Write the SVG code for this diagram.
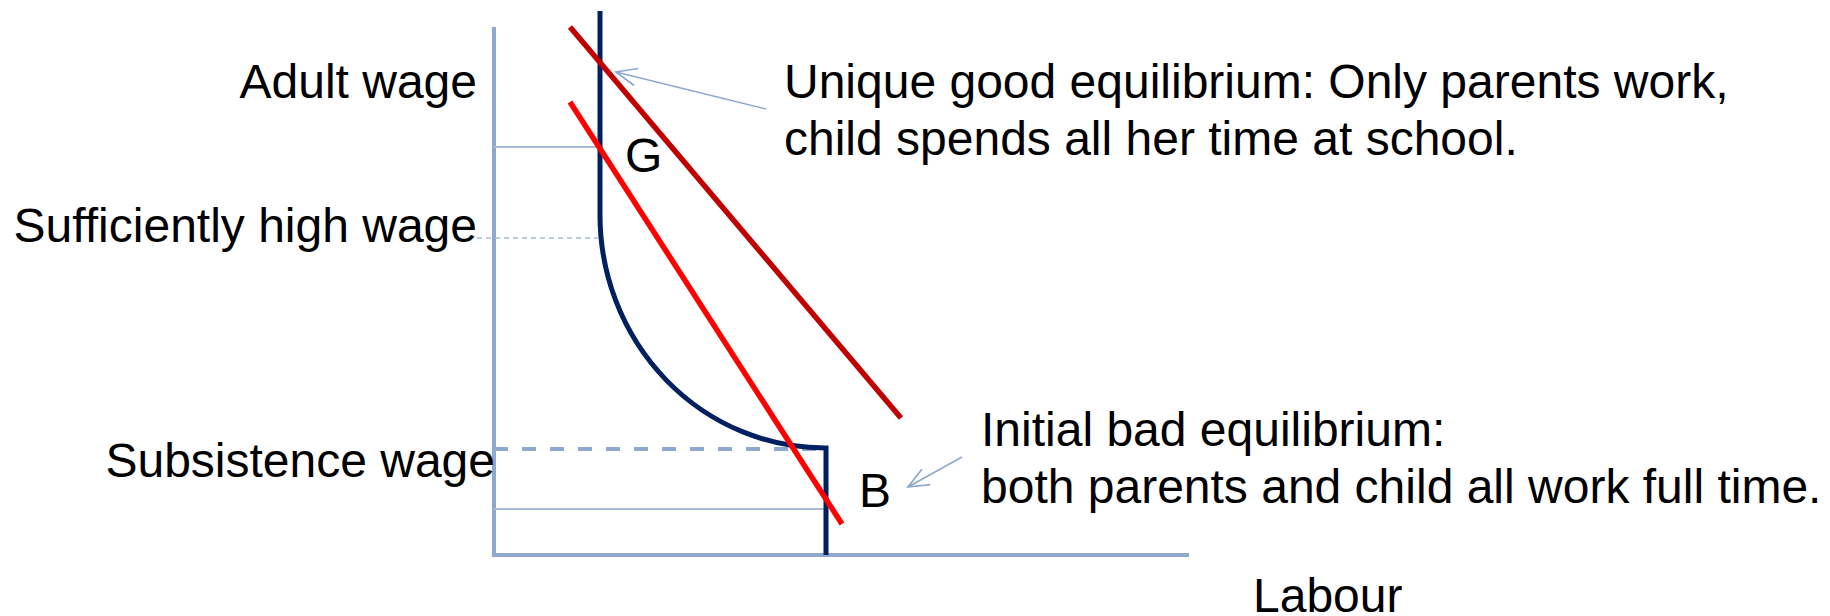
<svg xmlns="http://www.w3.org/2000/svg" width="1830" height="616" viewBox="0 0 1830 616">
<style>
text{font-family:"Liberation Sans",Arial,sans-serif;font-size:48px;fill:#000}
.end{text-anchor:end}
.axis{stroke:#8EA9CD;stroke-width:4;fill:none}
.guide{stroke:#A6BBD9;stroke-width:2;fill:none}
.dash{stroke:#8EA9CD;stroke-width:4;stroke-dasharray:14 14;fill:none}
.dot{stroke:#A6BBD9;stroke-width:1.5;stroke-dasharray:5 4;fill:none}
.navy{stroke:#002060;stroke-width:5;fill:none}
.dred{stroke:#C00000;stroke-width:5.5;fill:none}
.red{stroke:#FF0000;stroke-width:5.5;fill:none}
.ptr{stroke:#8EA9CD;stroke-width:1.6;fill:none;marker-end:url(#open)}
</style>
<defs>
<marker id="open" markerUnits="userSpaceOnUse" markerWidth="24" markerHeight="24" viewBox="-20 -10 22 20" refX="0" refY="0" orient="auto">
<path d="M-19,-8 L0,0 L-19,8" fill="none" stroke="#8EA9CD" stroke-width="1.6"/>
</marker>
</defs>
<g id="axes">
<path class="axis" d="M494,27 V555 H1189"/>
</g>
<g id="guides">
<path class="guide" d="M494,147 H600"/>
<path class="guide" d="M494,509 H826"/>
<path class="dot" d="M477,238 H598"/>
<path class="dash" d="M494,449 H822"/>
</g>
<g id="curve-supply">
<path class="navy" d="M600,11 V215 A225 233 0 0 0 826 448 V555"/>
</g>
<g id="line-high">
<path class="dred" d="M570,27 L901,418"/>
</g>
<g id="line-low">
<path class="red" d="M570,102 L842,524"/>
</g>
<g id="connectors">
<path class="ptr" d="M766,109 L616,72"/>
<path class="ptr" d="M962,457 L908,487"/>
</g>
<g id="label-adult"><text class="end" x="477" y="98">Adult wage</text></g>
<g id="label-sufficient"><text class="end" x="477" y="242">Sufficiently high wage</text></g>
<g id="label-subsistence"><text class="end" x="495" y="477">Subsistence wage</text></g>
<g id="label-G"><text x="625" y="172">G</text></g>
<g id="label-B"><text x="859" y="507">B</text></g>
<g id="label-labour"><text x="1253" y="612">Labour</text></g>
<g id="note-good">
<text x="784" y="98">Unique good equilibrium: Only parents work,</text>
<text x="784" y="155">child spends all her time at school.</text>
</g>
<g id="note-bad">
<text x="981" y="446">Initial bad equilibrium:</text>
<text x="981" y="503">both parents and child all work full time.</text>
</g>
</svg>
